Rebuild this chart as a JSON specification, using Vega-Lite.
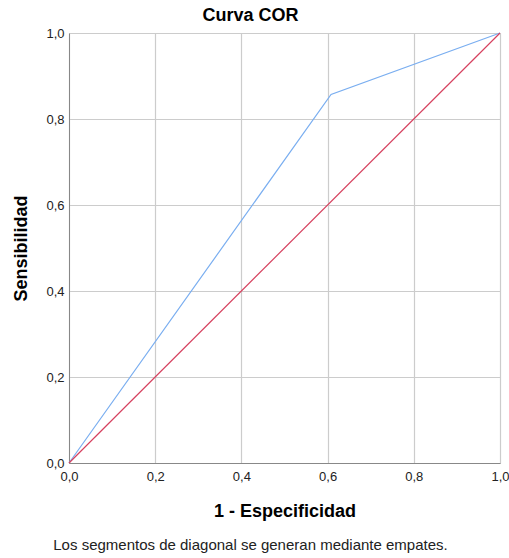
{
  "$schema": "https://vega.github.io/schema/vega-lite/v6.json",
  "width": 431,
  "height": 430,
  "autosize": {"type": "none"},
  "padding": {"left": 69, "top": 33, "right": 9, "bottom": 95},
  "background": "white",
  "title": {"text": "Curva COR", "font": "Liberation Sans", "fontSize": 18, "fontWeight": "bold", "color": "#000", "anchor": "middle", "frame": "group", "dx": -34, "offset": 2},
  "config": {"view": {"stroke": null}, "font": "Liberation Sans"},
  "datasets": {
    "roc": [
      {"x": 0, "y": 0, "s": "curve", "o": 0},
      {"x": 0.608, "y": 0.857, "s": "curve", "o": 1},
      {"x": 1, "y": 1, "s": "curve", "o": 2},
      {"x": 0, "y": 0, "s": "ref", "o": 0},
      {"x": 1, "y": 1, "s": "ref", "o": 1}
    ],
    "note": [{"x": 0.5, "y": 0}]
  },
  "layer": [
    {
      "data": {"name": "roc"},
      "mark": {"type": "line", "strokeWidth": 1.2},
      "encoding": {
        "x": {"field": "x", "type": "quantitative", "scale": {"domain": [0, 1], "nice": false},
          "axis": {"values": [0, 0.2, 0.4, 0.6, 0.8, 1], "labelExpr": "replace(format(datum.value, '.1f'), '.', ',')",
            "title": "1 - Especificidad", "titleFontSize": 18, "titleFontWeight": "bold", "titleColor": "#000", "titlePadding": 19,
            "labelFontSize": 13, "labelColor": "#222", "labelPadding": 7, "ticks": false, "domainColor": "#888", "gridColor": "#ccc", "gridWidth": 1.2, "labelFlush": false}},
        "y": {"field": "y", "type": "quantitative", "scale": {"domain": [0, 1], "nice": false},
          "axis": {"values": [0, 0.2, 0.4, 0.6, 0.8, 1], "labelExpr": "replace(format(datum.value, '.1f'), '.', ',')",
            "title": "Sensibilidad", "titleFontSize": 18, "titleFontWeight": "bold", "titleColor": "#000", "titlePadding": 15,
            "labelFontSize": 13, "labelColor": "#222", "labelPadding": 5, "ticks": false, "domainColor": "#888", "gridColor": "#ccc", "gridWidth": 1.2, "labelFlush": false}},
        "order": {"field": "o"},
        "color": {"field": "s", "type": "nominal", "scale": {"domain": ["curve", "ref"], "range": ["#7aaef0", "#d6415f"]}, "legend": null}
      }
    },
    {
      "data": {"name": "note"},
      "mark": {"type": "point", "opacity": 0},
      "encoding": {
        "x": {"field": "x", "type": "quantitative", "scale": {"domain": [0, 1]},
          "axis": {"orient": "bottom", "labels": false, "ticks": false, "domain": false, "grid": false,
            "title": "Los segmentos de diagonal se generan mediante empates.", "titleFontSize": 15, "titleFontWeight": "normal", "titleColor": "#222",
            "titleX": 181, "titleY": 74}},
        "y": {"field": "y", "type": "quantitative", "scale": {"domain": [0, 1]}, "axis": null}
      }
    }
  ],
  "resolve": {"scale": {"x": "independent", "y": "independent"}, "axis": {"x": "independent"}}
}
